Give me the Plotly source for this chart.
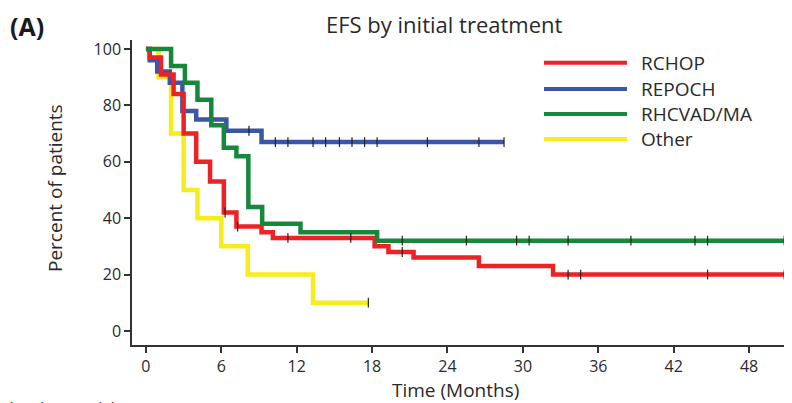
import plotly.graph_objects as go

# ---------------- data ----------------
group_names = ["RCHOP", "REPOCH", "RHCVAD/MA", "Other"]

rchop_t = [0, 0.3, 1.2, 2.2, 3.0, 4.0, 5.1, 6.2, 7.2, 9.2, 10.1, 18.2, 19.3, 21.3, 26.5, 32.4]
rchop_s = [100, 97, 91, 84, 70, 60, 53, 42, 37, 35, 33, 30, 28, 26, 23, 20]
rchop_end = 50.8
rchop_cens = [6.3, 7.3, 11.3, 16.3, 20.4, 33.6, 34.6, 44.7, 50.8]

repoch_t = [0, 0.3, 0.9, 1.9, 2.9, 4.0, 6.4, 9.2]
repoch_s = [100, 96, 92, 88, 78, 75, 71, 67]
repoch_end = 28.5
repoch_cens = [8.2, 10.3, 11.3, 13.3, 14.3, 15.4, 16.4, 17.4, 18.4, 22.4, 26.5, 28.5]

rhcvad_t = [0, 2.0, 3.1, 4.1, 5.2, 6.2, 7.2, 8.15, 9.25, 12.3, 18.4]
rhcvad_s = [100, 94, 88, 82, 73, 65, 62, 44, 38, 35, 32]
rhcvad_end = 50.8
rhcvad_cens = [20.4, 25.5, 29.5, 30.5, 33.6, 38.6, 43.7, 44.7, 50.8]

other_t = [0, 1.0, 2.0, 3.0, 4.1, 6.0, 8.1, 13.3]
other_s = [100, 90, 70, 50, 40, 30, 20, 10]
other_end = 17.7
other_cens = [17.7]

x_ticks = [0, 6, 12, 18, 24, 30, 36, 42, 48]
y_ticks = [0, 20, 40, 60, 80, 100]

colors = ["#ec2227", "#3b56a6", "#17873c", "#f7ec1c"]

groups = [
    (rchop_t, rchop_s, rchop_end, rchop_cens),
    (repoch_t, repoch_s, repoch_end, repoch_cens),
    (rhcvad_t, rhcvad_s, rhcvad_end, rhcvad_cens),
    (other_t, other_s, other_end, other_cens),
]


def step_value(ts, ss, t):
    v = ss[0]
    for ti, si in zip(ts, ss):
        if ti <= t:
            v = si
    return v


fig = go.Figure()
FONT = "Open Sans"
TXT = "#2a2a2a"

# page body has an 8px margin; plot area spans page x 132..790, y 40..345
L, T, W, H = 132, 40, 658, 305


def px(xp):
    return (xp - L) / W


def py(yp):
    return 1 - (yp - T) / H


order = [3, 1, 0, 2]
for i in order:
    ts, ss, end, cens = groups[i]
    fig.add_trace(go.Scatter(
        x=list(ts) + [end], y=list(ss) + [ss[-1]],
        mode="lines", line=dict(color=colors[i], width=4.5, shape="hv"),
        name=group_names[i], showlegend=False, hoverinfo="skip"))
for i in order:
    ts, ss, end, cens = groups[i]
    fig.add_trace(go.Scatter(
        x=cens, y=[step_value(ts, ss, c) for c in cens],
        mode="markers",
        marker=dict(symbol="line-ns", size=7, line=dict(color="#222222", width=1.2)),
        showlegend=False, hoverinfo="skip"))

# manual legend
leg_rows = [62.7, 89, 114, 139]
for i, name in enumerate(group_names):
    fig.add_shape(type="line", xref="paper", yref="paper",
                  x0=px(544), x1=px(627), y0=py(leg_rows[i]), y1=py(leg_rows[i]),
                  line=dict(color=colors[i], width=4))
    fig.add_annotation(xref="paper", yref="paper", x=px(639), y=py(leg_rows[i]),
                       text=name, showarrow=False, xanchor="left", yanchor="middle",
                       font=dict(family=FONT, size=19, color=TXT))

fig.add_annotation(xref="paper", yref="paper", x=px(9), y=py(8), borderpad=0,
                   text="<b>(A)</b>", showarrow=False, xanchor="left", yanchor="top",
                   font=dict(family=FONT, size=25, color="#1a1a1a"))
fig.add_annotation(xref="paper", yref="paper", x=px(444), y=py(8), borderpad=0,
                   text="EFS by initial treatment", showarrow=False, xanchor="center",
                   yanchor="top", font=dict(family=FONT, size=22, color=TXT))
fig.add_annotation(xref="paper", yref="paper", x=px(55), y=py(188),
                   text="Percent of patients", showarrow=False, textangle=-90,
                   xanchor="center", yanchor="middle",
                   font=dict(family=FONT, size=19, color=TXT))
fig.add_annotation(xref="paper", yref="paper", x=px(455), y=py(390),
                   text="Time (Months)", showarrow=False, xanchor="center",
                   yanchor="middle", font=dict(family=FONT, size=19, color=TXT))
fig.add_annotation(xref="paper", yref="paper", x=px(122), y=py(407),
                   text="Number at risk", showarrow=False, xanchor="right",
                   yanchor="middle", font=dict(family=FONT, size=17, color=TXT))

fig.update_xaxes(range=[-1.11, 51.26], tickvals=x_ticks, ticktext=[str(v) for v in x_ticks],
                 showline=True, linecolor="#333333", linewidth=1.5, ticks="outside",
                 ticklen=6, tickwidth=1.5, tickcolor="#333333", showgrid=False,
                 zeroline=False, tickfont=dict(family=FONT, size=16, color=TXT))
fig.update_yaxes(range=[-5.0, 103.2], tickvals=y_ticks, ticktext=[str(v) for v in y_ticks],
                 showline=True, linecolor="#333333", linewidth=1.5, ticks="outside",
                 ticklen=6, tickwidth=1.5, tickcolor="#333333", showgrid=False,
                 zeroline=False, tickfont=dict(family=FONT, size=16, color=TXT))

fig.update_layout(width=792, height=403, margin=dict(l=L - 8, r=792 - (L + W - 8), t=T - 8,
                                                     b=403 - (T + H - 8)),
                  plot_bgcolor="white", paper_bgcolor="white", showlegend=False)

fig.write_html("out.html")
